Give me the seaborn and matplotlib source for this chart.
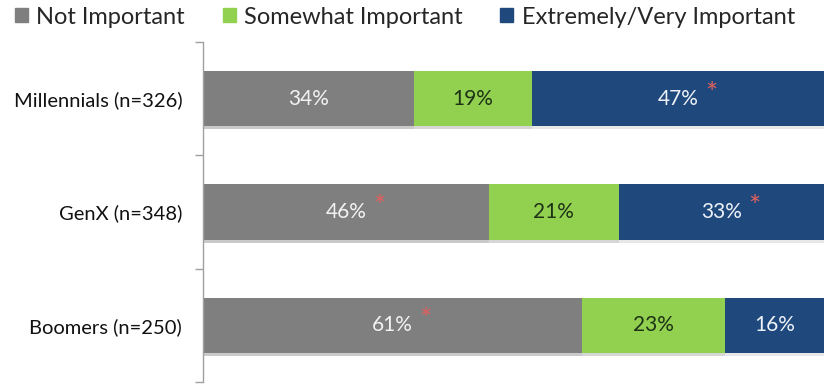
import numpy as np
import pandas as pd
import matplotlib.pyplot as plt
import matplotlib.patches as mpatches
import matplotlib.patheffects as pe
import seaborn as sns

# data
groups = ["Millennials (n=326)", "GenX (n=348)", "Boomers (n=250)"]
not_imp = [34, 46, 61]
somewhat = [19, 21, 23]
extreme = [47, 33, 16]
# significance stars (not, somewhat, extreme)
stars = [[False, False, True], [True, False, True], [True, False, False]]

series = ["Not Important", "Somewhat Important", "Extremely/Very Important"]
colors = ["#7f7f7f", "#92d050", "#1f497d"]
text_cols = ["#f2f2f2", "#1e3316", "#eef2f8"]

df = pd.DataFrame({"group": groups, "not": not_imp, "some": somewhat, "ext": extreme})
df["c1"] = df["not"]
df["c2"] = df["not"] + df["some"]
df["c3"] = df["c2"] + df["ext"]

sns.set_style("white")
plt.rcParams["font.family"] = ["Lato", "DejaVu Sans"]

fig = plt.figure(figsize=(8.24, 3.85), dpi=100)
ax = fig.add_axes([203 / 824, 3 / 385, 1 - 203 / 824, 340 / 385])

# stacked bars: draw cumulative totals from the longest back to the shortest
for col, c in zip(["c3", "c2", "c1"], colors[::-1]):
    sns.barplot(data=df, y="group", x=col, orient="h", order=groups,
                color=c, width=0.49, saturation=1, ax=ax, edgecolor="none")

# soft drop shadow under the bars
for p in ax.patches:
    p.set_path_effects([pe.SimplePatchShadow(offset=(0, -2), shadow_rgbFace="#b0b0b0", alpha=0.3),
                        pe.Normal()])

# value labels
for i, g in enumerate(groups):
    vals = [not_imp[i], somewhat[i], extreme[i]]
    left = 0
    for j, v in enumerate(vals):
        cx = left + v / 2
        ax.text(cx, i, f"{v}%", ha="center", va="center", fontsize=15,
                color=text_cols[j])
        if stars[i][j]:
            ax.annotate("*", xy=(cx, i), xytext=(24, 3), textcoords="offset points",
                        ha="center", va="center", fontsize=21, color="#e0605f")
        left += v

ax.set_xlim(0, 100)
ax.set_ylim(2.5, -0.5)
ax.set_xlabel("")
ax.set_ylabel("")
ax.set_xticks([])
ax.set_yticks(range(len(groups)))
ax.set_yticklabels(groups, fontsize=14.5, color="#111111")
ax.set_yticks([-0.5, 0.5, 1.5, 2.5], minor=True)
ax.tick_params(axis="y", which="major", left=False, length=0, pad=15)
ax.tick_params(axis="y", which="minor", left=True, length=6, width=1,
               color="#a0a0a0", direction="out")
for s in ["top", "right", "bottom"]:
    ax.spines[s].set_visible(False)
ax.spines["left"].set_color("#a0a0a0")
ax.spines["left"].set_linewidth(1)

handles = [mpatches.Patch(color=c, label=s) for c, s in zip(colors, series)]
fig.legend(handles=handles, loc="center left", bbox_to_anchor=(15 / 824, 1 - 17 / 385),
           ncol=3, frameon=False, fontsize=17, handlelength=0.55, handleheight=0.55,
           handletextpad=0.35, columnspacing=1.6, borderpad=0, borderaxespad=0)

fig.savefig("out.png", dpi=100)
